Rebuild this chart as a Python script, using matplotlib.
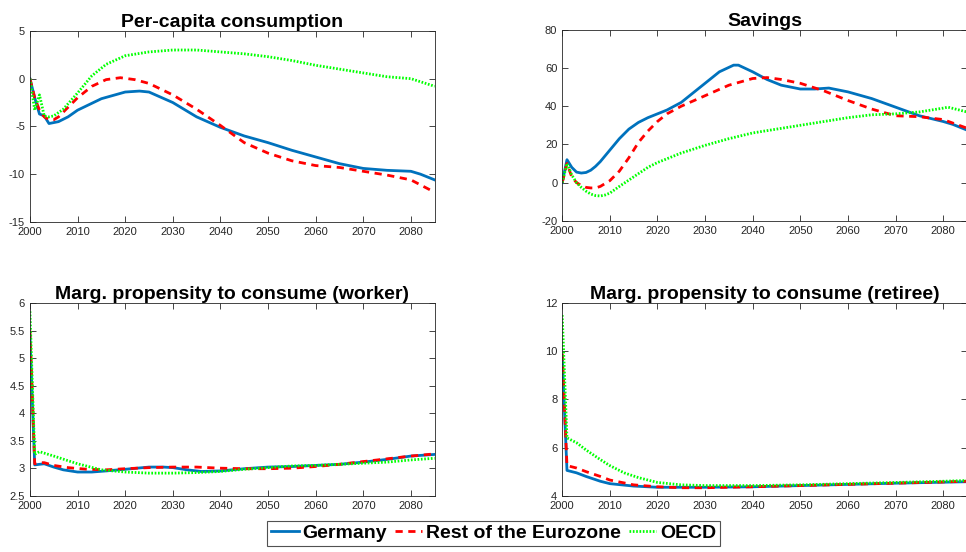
import matplotlib
matplotlib.use('Agg')
import matplotlib.pyplot as plt
from matplotlib.lines import Line2D

plt.rcParams['font.family'] = ['Liberation Sans', 'DejaVu Sans']

# ---------------------------------------------------------------------------
# Series (years, values) per region and panel
# ---------------------------------------------------------------------------
cons_de_yr = [2000, 2001, 2002, 2003, 2004, 2006, 2008, 2010, 2015, 2020, 2023, 2025,
              2030, 2035, 2040, 2045, 2050, 2055, 2060, 2065, 2070, 2075, 2080, 2082, 2085]
cons_de = [0, -2.0, -3.7, -3.9, -4.7, -4.5, -4.0, -3.3, -2.1, -1.4, -1.3, -1.4,
           -2.5, -4.0, -5.1, -6.0, -6.7, -7.5, -8.2, -8.9, -9.4, -9.6, -9.7, -10.0, -10.6]
cons_ez_yr = [2000, 2001, 2002, 2003, 2004, 2005, 2006, 2008, 2010, 2013, 2016, 2019, 2022,
              2025, 2030, 2035, 2040, 2045, 2050, 2055, 2060, 2065, 2070, 2075, 2080, 2085]
cons_ez = [0, -2.0, -3.3, -4.0, -4.3, -4.3, -4.0, -3.0, -2.0, -0.8, -0.1, 0.1, -0.1,
           -0.5, -1.7, -3.2, -4.9, -6.7, -7.8, -8.6, -9.1, -9.3, -9.7, -10.1, -10.6, -11.9]
cons_oecd_yr = [2000, 2001, 2002, 2003, 2004, 2005, 2007, 2010, 2013, 2016, 2020, 2025,
                2030, 2035, 2040, 2045, 2050, 2055, 2060, 2065, 2070, 2075, 2080, 2085]
cons_oecd = [0, -3.3, -1.7, -3.9, -4.0, -3.9, -3.2, -1.5, 0.3, 1.5, 2.4, 2.8,
             3.0, 3.0, 2.8, 2.6, 2.3, 1.9, 1.4, 1.0, 0.6, 0.2, 0.0, -0.8]

sav_de_yr = [2000, 2001, 2002, 2003, 2004, 2005, 2006, 2007, 2008, 2010, 2012, 2014, 2016,
             2018, 2020, 2022, 2025, 2028, 2030, 2033, 2036, 2037, 2040, 2043, 2046, 2050,
             2053, 2056, 2060, 2065, 2070, 2075, 2080, 2082, 2085]
sav_de = [0, 12, 8, 5.5, 5, 5.3, 6.5, 8.5, 11, 17, 23, 28, 31.5,
          34, 36, 38, 42, 48, 52, 58, 61.5, 61.5, 58, 54, 51, 49,
          49, 49.5, 47.5, 44, 39.5, 35, 32, 30.5, 27.5]
sav_ez_yr = [2000, 2001, 2002, 2003, 2004, 2005, 2006, 2007, 2008, 2010, 2012, 2014, 2016,
             2018, 2020, 2022, 2025, 2030, 2035, 2040, 2043, 2046, 2050, 2055, 2060, 2065,
             2070, 2075, 2080, 2085]
sav_ez = [0, 10, 3, 0, -1.5, -2.5, -2.8, -2.8, -2, 1, 6, 13, 21,
          27, 32, 36, 40, 45.5, 51, 54.5, 55, 54, 52, 48, 43, 38.5,
          35, 34.5, 33, 28.5]
sav_oecd_yr = [2000, 2001, 2002, 2003, 2004, 2005, 2006, 2007, 2008, 2009, 2010, 2012, 2015,
               2018, 2020, 2025, 2030, 2035, 2040, 2045, 2050, 2055, 2060, 2065, 2070, 2075,
               2080, 2081, 2085]
sav_oecd = [0, 10, 4, 0, -2.5, -4.5, -6, -6.8, -7, -6.5, -5.5, -2, 3,
            8, 10.5, 15.5, 19.5, 23, 26, 28, 30, 32, 34, 35.5, 36, 37,
            39, 39.5, 37]

mpcw_de_yr = [2000, 2001, 2002, 2003, 2005, 2007, 2010, 2013, 2016, 2020, 2025, 2028, 2030,
              2033, 2036, 2040, 2045, 2050, 2055, 2060, 2065, 2070, 2075, 2080, 2085]
mpcw_de = [5.4, 3.06, 3.07, 3.08, 3.02, 2.97, 2.93, 2.93, 2.95, 2.98, 3.02, 3.02, 3.01,
           2.97, 2.94, 2.95, 2.99, 3.02, 3.03, 3.05, 3.07, 3.11, 3.16, 3.22, 3.25]
mpcw_ez_yr = [2000, 2001, 2002, 2003, 2005, 2008, 2012, 2016, 2020, 2025, 2030, 2035, 2040,
              2045, 2050, 2055, 2060, 2065, 2070, 2075, 2080, 2085]
mpcw_ez = [5.5, 3.08, 3.1, 3.1, 3.05, 3.01, 2.98, 2.97, 2.99, 3.01, 3.02, 3.02, 3.0,
           2.99, 2.99, 3.0, 3.03, 3.07, 3.12, 3.17, 3.22, 3.26]
mpcw_oecd_yr = [2000, 2001, 2002, 2005, 2010, 2015, 2020, 2025, 2030, 2035, 2040, 2045, 2050,
                2055, 2060, 2065, 2070, 2075, 2080, 2085]
mpcw_oecd = [5.85, 3.25, 3.3, 3.22, 3.08, 2.97, 2.93, 2.91, 2.91, 2.92, 2.94, 2.98, 3.01,
             3.04, 3.05, 3.07, 3.09, 3.11, 3.15, 3.18]

mpcr_de_yr = [2000, 2001, 2003, 2005, 2008, 2010, 2015, 2020, 2025, 2030, 2040, 2050, 2060,
              2070, 2080, 2085]
mpcr_de = [9.8, 5.05, 4.95, 4.8, 4.6, 4.5, 4.4, 4.35, 4.35, 4.35, 4.37, 4.42, 4.47,
           4.52, 4.56, 4.58]
mpcr_ez_yr = [2000, 2001, 2003, 2005, 2008, 2010, 2015, 2020, 2025, 2030, 2040, 2050, 2060,
              2070, 2080, 2085]
mpcr_ez = [9.9, 5.25, 5.15, 5.0, 4.8, 4.65, 4.45, 4.37, 4.33, 4.33, 4.37, 4.42, 4.47,
           4.52, 4.57, 4.6]
mpcr_oecd_yr = [2000, 2001, 2003, 2005, 2008, 2010, 2013, 2016, 2020, 2025, 2030, 2040, 2050,
                2060, 2070, 2080, 2085]
mpcr_oecd = [11.5, 6.4, 6.2, 5.9, 5.5, 5.25, 4.95, 4.75, 4.55, 4.45, 4.42, 4.42, 4.45,
             4.5, 4.55, 4.6, 4.63]

labels = ['Germany', 'Rest of the Eurozone', 'OECD']
x_ticks = [2000, 2010, 2020, 2030, 2040, 2050, 2060, 2070, 2080]

panels = [
    ('Per-capita consumption', [0.031, 0.598, 0.419, 0.346], (-15, 5), [-15, -10, -5, 0, 5],
     [(cons_de_yr, cons_de), (cons_ez_yr, cons_ez), (cons_oecd_yr, cons_oecd)]),
    ('Savings', [0.582, 0.600, 0.419, 0.346], (-20, 80), [-20, 0, 20, 40, 60, 80],
     [(sav_de_yr, sav_de), (sav_ez_yr, sav_ez), (sav_oecd_yr, sav_oecd)]),
    ('Marg. propensity to consume (worker)', [0.031, 0.102, 0.419, 0.349], (2.5, 6),
     [2.5, 3, 3.5, 4, 4.5, 5, 5.5, 6],
     [(mpcw_de_yr, mpcw_de), (mpcw_ez_yr, mpcw_ez), (mpcw_oecd_yr, mpcw_oecd)]),
    ('Marg. propensity to consume (retiree)', [0.582, 0.102, 0.419, 0.349], (4, 12),
     [4, 6, 8, 10, 12],
     [(mpcr_de_yr, mpcr_de), (mpcr_ez_yr, mpcr_ez), (mpcr_oecd_yr, mpcr_oecd)]),
]

styles = [
    dict(color='#0072BD', linestyle='-', linewidth=2.0),
    dict(color='#FF0000', linestyle=(0, (2.6, 2.0)), linewidth=2.0),
    dict(color='#00FF00', linestyle=(0, (0.6, 0.6)), linewidth=2.0),
]

fig = plt.figure(figsize=(9.66, 5.52), dpi=100)

for title, pos, ylim, yticks, series in panels:
    ax = fig.add_axes(pos)
    for (yrs, vals), st in zip(series, styles):
        ax.plot(yrs, vals, **st)
    ax.set_xlim(2000, 2085)
    ax.set_ylim(*ylim)
    ax.set_xticks(x_ticks)
    ax.set_yticks(yticks)
    ax.set_yticklabels([f'{t:g}' for t in yticks])
    ax.tick_params(direction='in', top=True, right=True, length=4, width=0.6,
                   labelsize=8, colors='#262626')
    ax.tick_params(axis='x', pad=3.5)
    ax.tick_params(axis='y', pad=3.5)
    for sp in ax.spines.values():
        sp.set_color('#262626')
        sp.set_linewidth(0.6)
    ax.set_title(title, fontsize=14, fontweight='bold', pad=3)

handles = [Line2D([], [], **st) for st in styles]
leg = fig.legend(handles, labels, loc='center', bbox_to_anchor=(0.511, 0.034), ncol=3,
                 frameon=True, fancybox=False, edgecolor='#262626',
                 prop={'weight': 'bold', 'size': 14}, handlelength=1.4,
                 handletextpad=0.2, columnspacing=0.4, borderpad=0.2, borderaxespad=0)
leg.get_frame().set_linewidth(0.8)

fig.savefig('out.png', dpi=100)
